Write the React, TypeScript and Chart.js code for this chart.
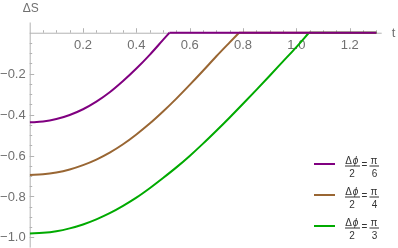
import React, { useEffect, useRef } from "react";
import { Chart, registerables } from "chart.js";

Chart.register(...registerables);

// t values (x) and ΔS values (y)
const T_PURPLE = [0, 0.05, 0.1, 0.15, 0.2, 0.25, 0.3, 0.35, 0.4, 0.45, 0.5, 0.524];
const S_PURPLE = [-0.438, -0.434, -0.422, -0.402, -0.374, -0.337, -0.291, -0.236, -0.175, -0.108, -0.035, 0];

const T_BROWN = [0, 0.05, 0.1, 0.15, 0.2, 0.25, 0.3, 0.35, 0.4, 0.45, 0.5, 0.55, 0.6, 0.65, 0.7, 0.75, 0.785];
const S_BROWN = [-0.695, -0.692, -0.683, -0.668, -0.647, -0.62, -0.586, -0.545, -0.497, -0.444, -0.385, -0.322, -0.255, -0.186, -0.115, -0.047, 0];

const T_GREEN = [0, 0.05, 0.1, 0.15, 0.2, 0.25, 0.3, 0.35, 0.4, 0.45, 0.5, 0.55, 0.6, 0.65, 0.7, 0.75, 0.8, 0.85, 0.9, 0.95, 1.0, 1.047];
const S_GREEN = [-0.981, -0.978, -0.97, -0.956, -0.937, -0.912, -0.882, -0.846, -0.806, -0.76, -0.71, -0.658, -0.602, -0.542, -0.479, -0.414, -0.347, -0.279, -0.21, -0.14, -0.07, 0];

const T_END = 1.3;

const X_TICKS = [0.2, 0.4, 0.6, 0.8, 1.0, 1.2];
const X_TICK_LABELS = ["0.2", "0.4", "0.6", "0.8", "1.0", "1.2"];
const Y_TICKS = [-0.2, -0.4, -0.6, -0.8, -1.0];
const Y_TICK_LABELS = ["\u22120.2", "\u22120.4", "\u22120.6", "\u22120.8", "\u22121.0"];

const SERIES_COLORS = ["#800080", "#996633", "#00aa00"];
const LEGEND_DENOMS = ["6", "4", "3"];

const AXIS_COLOR = "#b3b3b3";
const LABEL_COLOR = "#707070";
const FONT = '"Liberation Sans", Arial, sans-serif';

function pts(ts: number[], ss: number[]) {
  return ts.map((t, i) => ({ x: t, y: ss[i] }));
}

const axesPlugin = {
  id: "mmaAxes",
  beforeDatasetsDraw(chart: any) {
    const ctx = chart.ctx;
    const xs = chart.scales.x;
    const ys = chart.scales.y;
    const x0 = xs.getPixelForValue(0);
    const y0 = ys.getPixelForValue(0);
    ctx.save();
    ctx.strokeStyle = AXIS_COLOR;
    ctx.lineWidth = 1;
    ctx.beginPath();
    ctx.moveTo(x0, y0 + 0.5);
    ctx.lineTo(xs.right, y0 + 0.5);
    ctx.stroke();
    ctx.beginPath();
    ctx.moveTo(x0 + 0.5, ys.top);
    ctx.lineTo(x0 + 0.5, ys.bottom);
    ctx.stroke();
    for (let i = 1; i * 0.05 <= xs.max + 1e-9; i++) {
      const v = i * 0.05;
      const major = i % 4 === 0;
      const px = Math.round(xs.getPixelForValue(v)) + 0.5;
      ctx.beginPath();
      ctx.moveTo(px, y0);
      ctx.lineTo(px, y0 - (major ? 4.5 : 2.5));
      ctx.stroke();
    }
    for (let i = 1; -i * 0.05 >= ys.min - 1e-9; i++) {
      const v = -i * 0.05;
      const major = i % 4 === 0;
      const py = Math.round(ys.getPixelForValue(v)) + 0.5;
      ctx.beginPath();
      ctx.moveTo(x0, py);
      ctx.lineTo(x0 + (major ? 4.5 : 2.5), py);
      ctx.stroke();
    }
    ctx.fillStyle = LABEL_COLOR;
    ctx.font = "13px " + FONT;
    ctx.textAlign = "center";
    ctx.textBaseline = "top";
    X_TICKS.forEach((v, i) => {
      ctx.fillText(X_TICK_LABELS[i], xs.getPixelForValue(v), y0 + 6.5);
    });
    ctx.textAlign = "right";
    ctx.textBaseline = "middle";
    Y_TICKS.forEach((v, i) => {
      ctx.fillText(Y_TICK_LABELS[i], x0 - 4, ys.getPixelForValue(v) + 0.5);
    });
    ctx.font = "12px " + FONT;
    ctx.textAlign = "center";
    ctx.fillText("\u0394S", x0 + 1, 9);
    ctx.font = "13px " + FONT;
    ctx.textAlign = "left";
    ctx.fillText("t", xs.right + 10, y0 + 1);
    ctx.restore();
  },
  afterDraw(chart: any) {
    const ctx = chart.ctx;
    ctx.save();
    const baseY = 164;
    const step = 31;
    SERIES_COLORS.forEach((c, i) => {
      const y = baseY + i * step;
      ctx.strokeStyle = c;
      ctx.lineWidth = 2;
      ctx.beginPath();
      ctx.moveTo(314, y);
      ctx.lineTo(335, y);
      ctx.stroke();
      ctx.fillStyle = "#333333";
      ctx.font = "10px " + FONT;
      ctx.textBaseline = "alphabetic";
      ctx.textAlign = "center";
      ctx.fillText("\u0394", 348.5, y - 0.5);
      ctx.font = "italic 10px " + FONT;
      ctx.fillText("\u03d5", 355.5, y - 0.5);
      ctx.font = "10px " + FONT;
      ctx.fillText("2", 352, y + 13);
      ctx.fillText("=", 364.5, y + 4);
      ctx.fillText("\u03c0", 374, y - 0.5);
      ctx.fillText(LEGEND_DENOMS[i], 374.5, y + 13);
      ctx.strokeStyle = "#333333";
      ctx.lineWidth = 1;
      ctx.beginPath();
      ctx.moveTo(345, y + 2);
      ctx.lineTo(360, y + 2);
      ctx.moveTo(369.5, y + 2);
      ctx.lineTo(379, y + 2);
      ctx.stroke();
    });
    ctx.restore();
  },
};

export default function App() {
  const ref = useRef<HTMLCanvasElement>(null);
  useEffect(() => {
    document.body.style.margin = "0";
    const curves = [
      pts(T_PURPLE, S_PURPLE),
      pts(T_BROWN, S_BROWN),
      pts(T_GREEN, S_GREEN),
    ];
    const flats = [
      [{ x: T_PURPLE[T_PURPLE.length - 1], y: 0 }, { x: T_END, y: 0 }],
      [{ x: T_BROWN[T_BROWN.length - 1], y: 0 }, { x: T_END, y: 0 }],
      [{ x: T_GREEN[T_GREEN.length - 1], y: 0 }, { x: T_END, y: 0 }],
    ];
    const datasets: any[] = [];
    curves.forEach((d, i) => {
      datasets.push({
        data: flats[i],
        borderColor: SERIES_COLORS[i],
        borderWidth: 2,
        pointRadius: 0,
        tension: 0,
      });
      datasets.push({
        data: d,
        borderColor: SERIES_COLORS[i],
        borderWidth: 2,
        pointRadius: 0,
        cubicInterpolationMode: "monotone",
      });
    });
    const chart = new Chart(ref.current!, {
      type: "line",
      data: { datasets },
      options: {
        animation: false,
        responsive: false,
        events: [],
        layout: { padding: { left: 29.7, right: 16.3, top: 22.5, bottom: 0.4 } },
        plugins: { legend: { display: false }, tooltip: { enabled: false } },
        scales: {
          x: { type: "linear", min: 0, max: 1.32, display: false },
          y: { type: "linear", min: -1.05, max: 0.05, display: false },
        },
      },
      plugins: [axesPlugin],
    });
    return () => chart.destroy();
  }, []);
  return (
    <div style={{ position: "fixed", left: 0, top: 0, width: 398, height: 248, background: "#fff" }}>
      <canvas ref={ref} width={398} height={248} style={{ width: 398, height: 248 }} />
    </div>
  );
}
